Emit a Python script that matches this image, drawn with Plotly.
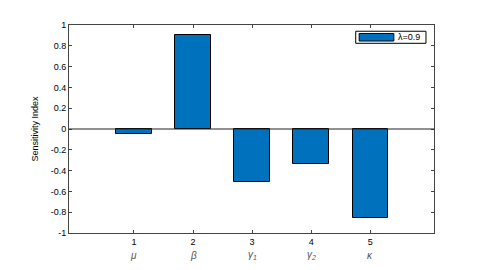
import plotly.graph_objects as go

categories = [1, 2, 3, 4, 5]
param_labels = ["μ", "β", "γ<sub>1</sub>", "γ<sub>2</sub>", "κ"]
sensitivity = [-0.05, 0.90, -0.505, -0.34, -0.855]
series_name = "λ=0.9"
y_ticks = [-1, -0.8, -0.6, -0.4, -0.2, 0, 0.2, 0.4, 0.6, 0.8, 1]
y_ticktext = ["-1", "-0.8", "-0.6", "-0.4", "-0.2", "0", "0.2", "0.4", "0.6", "0.8", "1"]

BLUE = "#0072BD"
FONT = "Liberation Sans, Arial, sans-serif"

fig = go.Figure()
fig.add_trace(go.Bar(
    x=categories, y=sensitivity, width=0.6, name=series_name,
    marker=dict(color=BLUE, line=dict(color="black", width=1)),
    showlegend=False,
))

# Greek parameter labels under the numeric ticks
for c, lab in zip(categories, param_labels):
    fig.add_annotation(x=c, xref="x", y=-0.108, yref="paper", yanchor="middle",
                       text=f"<i>{lab}</i>", showarrow=False,
                       font=dict(family=FONT, size=10, color="#555555"))

# Zero line
fig.add_shape(type="line", xref="paper", x0=0, x1=1, yref="y", y0=0, y1=0,
              line=dict(color="#222222", width=1))

# Manual legend box (MATLAB style)
fig.add_shape(type="rect", xref="paper", yref="paper", x0=0.7855, x1=0.978, y0=0.912, y1=0.970,
              line=dict(color="black", width=1), fillcolor="white")
fig.add_shape(type="rect", xref="paper", yref="paper", x0=0.795, x1=0.890, y0=0.923, y1=0.959,
              line=dict(color="black", width=1), fillcolor=BLUE)
fig.add_annotation(x=0.895, y=0.941, xref="paper", yref="paper", xanchor="left", yanchor="middle",
                   text=series_name, showarrow=False, font=dict(family=FONT, size=9, color="black"))

fig.update_layout(
    width=469, height=254,
    margin=dict(l=61, r=43, t=14, b=29),
    paper_bgcolor="white", plot_bgcolor="white",
    font=dict(family=FONT, size=9, color="black"),
    bargap=0,
    xaxis=dict(range=[-0.1, 6.08], tickvals=categories, ticktext=[str(c) for c in categories],
               ticks="inside", ticklen=3, tickcolor="#444", showline=True, linecolor="#444",
               linewidth=1, mirror="allticks", showgrid=False, zeroline=False,
               tickfont=dict(family=FONT, size=9, color="black")),
    yaxis=dict(range=[-1, 1], tickvals=y_ticks, ticktext=y_ticktext,
               ticks="inside", ticklen=3, tickcolor="#444", showline=True, linecolor="#444",
               linewidth=1, mirror="allticks", showgrid=False, zeroline=False,
               tickfont=dict(family=FONT, size=9, color="black"),
               title=dict(text="Sensitivity Index", standoff=10,
                          font=dict(family=FONT, size=9, color="black"))),
)

fig.write_html("out.html")
